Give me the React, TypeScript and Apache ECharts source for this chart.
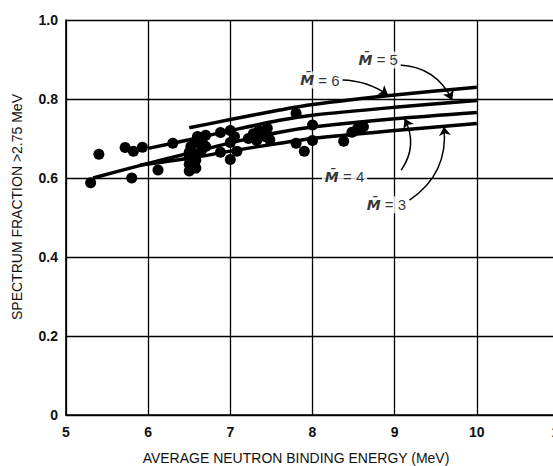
import React, { useEffect, useRef } from "react";
import * as echarts from "echarts";

// Axis ticks
const xTickValues = [5, 6, 7, 8, 9, 10, 11];
const yTickValues = [0, 0.2, 0.4, 0.6, 0.8, 1.0];

// Curves for average multiplicity M
const curveM6 = [[6.5, 0.727], [7, 0.748], [7.6, 0.772], [8, 0.786], [9, 0.81], [10, 0.83]];
const curveM5 = [[6.0, 0.675], [6.5, 0.697], [7, 0.72], [7.6, 0.746], [8, 0.759], [9, 0.779], [10, 0.796]];
const curveM4 = [[5.33, 0.6], [6, 0.637], [6.5, 0.663], [7, 0.689], [7.6, 0.716], [8, 0.729], [9, 0.75], [10, 0.766]];
const curveM3 = [[5.9, 0.633], [6.5, 0.65], [7, 0.668], [7.6, 0.688], [8, 0.7], [9, 0.72], [10, 0.738]];

// Measured points
const points = [
  [5.3, 0.588], [5.4, 0.66], [5.72, 0.677], [5.8, 0.6], [5.82, 0.668], [5.93, 0.678],
  [6.12, 0.62], [6.3, 0.688],
  [6.5, 0.618], [6.5, 0.635], [6.5, 0.65], [6.5, 0.665], [6.52, 0.68],
  [6.58, 0.625], [6.58, 0.645], [6.58, 0.66], [6.58, 0.69], [6.6, 0.705],
  [6.65, 0.67], [6.66, 0.69], [6.7, 0.708], [6.7, 0.68],
  [6.88, 0.715], [6.88, 0.665], [7.0, 0.72], [7.0, 0.69], [7.0, 0.647], [7.08, 0.668], [7.05, 0.705],
  [7.22, 0.7], [7.28, 0.712], [7.35, 0.72], [7.32, 0.695], [7.45, 0.726], [7.48, 0.697], [7.42, 0.705],
  [7.8, 0.764], [7.8, 0.688], [7.9, 0.668], [8.0, 0.734], [8.0, 0.695],
  [8.38, 0.693], [8.48, 0.716], [8.55, 0.726], [8.62, 0.73],
];

// Label positions and arrows
const labelNames = ["6", "5", "4", "3"];
const labelPositions = [[8.09, 0.848], [8.8, 0.899], [8.39, 0.603], [8.9, 0.532]];
const arrowM6 = [[8.36, 0.848], [8.92, 0.81]];
const arrowM5 = [[9.06, 0.886], [9.7, 0.797]];
const arrowM4 = [[9.08, 0.62], [9.12, 0.75]];
const arrowM3 = [[9.18, 0.544], [9.6, 0.73]];

const FONT = "Liberation Sans";

export default function App() {
  const ref = useRef<HTMLDivElement>(null);

  useEffect(() => {
    if (!ref.current) return;
    const chart = echarts.init(ref.current, undefined, { renderer: "svg" });
    const lineSeries = (data: number[][]) => ({
      type: "line",
      data,
      smooth: 0.3,
      showSymbol: false,
      symbol: "none",
      lineStyle: { color: "#000", width: 3.5 },
      z: 3,
    });
    const arrow = (coords: number[][], curveness: number) => ({
      coords,
      lineStyle: { curveness },
    });
    chart.setOption({
      animation: false,
      backgroundColor: "#fff",
      grid: {
        left: 66,
        top: 20,
        right: -6,
        bottom: 51,
        show: false,
        containLabel: false,
        outerBoundsMode: "none",
      },
      xAxis: {
        type: "value",
        min: xTickValues[0],
        max: xTickValues[xTickValues.length - 1],
        interval: 1,
        axisLine: { show: true, lineStyle: { color: "#000", width: 1.6 } },
        axisTick: { show: false },
        axisLabel: {
          color: "#111",
          fontSize: 14,
          fontFamily: FONT,
          fontWeight: "bold",
          margin: 10,
          showMaxLabel: true,
        },
        splitLine: { show: true, lineStyle: { color: "#000", width: 1.3 } },
      },
      yAxis: {
        type: "value",
        min: yTickValues[0],
        max: yTickValues[yTickValues.length - 1],
        interval: 0.2,
        axisLine: { show: true, lineStyle: { color: "#000", width: 1.6 } },
        axisTick: { show: false },
        axisLabel: {
          color: "#111",
          fontSize: 14,
          fontFamily: FONT,
          fontWeight: "bold",
          margin: 8,
          formatter: (v: number) => (v === 0 ? "0" : v.toFixed(1)),
        },
        splitLine: { show: true, lineStyle: { color: "#000", width: 1.3 } },
      },
      graphic: [
        {
          type: "text",
          x: 296,
          y: 458,
          style: {
            text: "AVERAGE NEUTRON BINDING ENERGY (MeV)",
            fill: "#111",
            font: `14px "${FONT}"`,
            textAlign: "center",
            textVerticalAlign: "middle",
          },
        },
        {
          type: "text",
          x: 17,
          y: 207,
          rotation: Math.PI / 2,
          style: {
            text: "SPECTRUM FRACTION >2.75 MeV",
            fill: "#111",
            font: `14px "${FONT}"`,
            textAlign: "center",
            textVerticalAlign: "middle",
          },
        },
      ],
      series: [
        lineSeries(curveM6),
        lineSeries(curveM5),
        lineSeries(curveM4),
        lineSeries(curveM3),
        {
          type: "scatter",
          data: points,
          symbol: "circle",
          symbolSize: 11,
          itemStyle: { color: "#000", opacity: 1 },
          z: 4,
        },
        {
          type: "lines",
          coordinateSystem: "cartesian2d",
          symbol: ["none", "arrow"],
          symbolSize: [0, 9],
          lineStyle: { color: "#000", width: 1.5, opacity: 1 },
          data: [
            arrow(arrowM6, 0.15),
            arrow(arrowM5, 0.3),
            arrow(arrowM4, -0.3),
            arrow(arrowM3, -0.3),
          ],
          z: 5,
        },
        {
          type: "scatter",
          symbolSize: 0,
          data: labelPositions.map((p, i) => ({ value: p, name: labelNames[i] })),
          label: {
            show: true,
            position: "inside",
            formatter: (p: any) => `{m|M\u0304}{t| = ${p.name}}`,
            backgroundColor: "#fff",
            padding: [1, 3],
            rich: {
              m: {
                fontFamily: "DejaVu Sans",
                fontStyle: "italic",
                fontWeight: "bold",
                fontSize: 14,
                color: "#000",
              },
              t: {
                fontFamily: FONT,
                fontSize: 15,
                color: "#000",
              },
            },
          },
          z: 6,
        },
      ],
    });
    return () => chart.dispose();
  }, []);

  return (
    <div
      ref={ref}
      style={{ position: "absolute", left: 0, top: 0, width: 553, height: 466 }}
    />
  );
}
